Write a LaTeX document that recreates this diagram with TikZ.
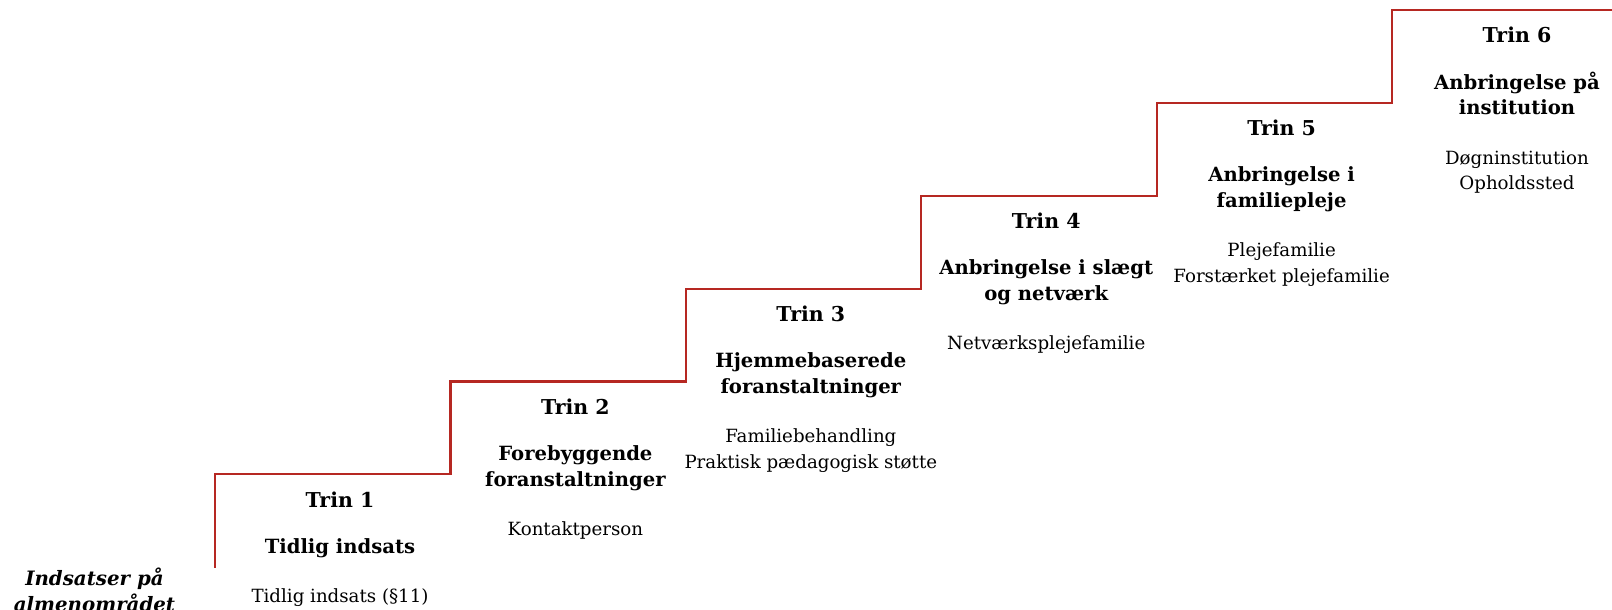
\documentclass[tikz,border=0pt]{standalone}
\usepackage{fontspec}
\setmainfont{DejaVu Serif}
\definecolor{stair}{RGB}{182,40,34}
\begin{document}
\begin{tikzpicture}[x=1pt,y=-1pt,
  every node/.style={inner sep=0pt,outer sep=0pt,anchor=base},
  trin/.style={font=\fontsize{20.5}{22}\selectfont\bfseries},
  sub/.style={font=\fontsize{19.6}{22}\selectfont\bfseries},
  desc/.style={font=\fontsize{18.2}{20}\selectfont},
  side/.style={font=\fontsize{19.8}{22}\selectfont\bfseries\itshape},
  stairline/.style={draw=stair,line width=2.2pt,line join=miter}]
\useasboundingbox (0,0) rectangle (1612,610);
% staircase
\coordinate (s0) at (215,567.7);
\coordinate (s6) at (1613,10);
\draw[stairline] (s0) -- (215,474.3) -- (450.4,474.3) -- (450.4,381.4) -- (685.8,381.4)
  -- (685.8,288.6) -- (921.2,288.6) -- (921.2,195.7) -- (1156.6,195.7)
  -- (1156.6,102.9) -- (1392,102.9) -- (1392,10) -- (s6);
% step 1
\node[trin] (t1) at (340,507.3) {Trin 1};
\node[sub] (s1a) at (340,553.3) {Tidlig indsats};
\node[desc] (d1a) at (340,602.3) {Tidlig indsats (§11)};
% step 2
\node[trin] (t2) at (575.4,414.4) {Trin 2};
\node[sub] (s2a) at (575.4,460.4) {Forebyggende};
\node[sub] (s2b) at (575.4,486.4) {foranstaltninger};
\node[desc] (d2a) at (575.4,535.4) {Kontaktperson};
% step 3
\node[trin] (t3) at (810.8,321.6) {Trin 3};
\node[sub] (s3a) at (810.8,367.6) {Hjemmebaserede};
\node[sub] (s3b) at (810.8,393.6) {foranstaltninger};
\node[desc] (d3a) at (810.8,442.6) {Familiebehandling};
\node[desc] (d3b) at (810.8,468.1) {Praktisk pædagogisk støtte};
% step 4
\node[trin] (t4) at (1046.2,228.7) {Trin 4};
\node[sub] (s4a) at (1046.2,274.7) {Anbringelse i slægt};
\node[sub] (s4b) at (1046.2,300.7) {og netværk};
\node[desc] (d4a) at (1046.2,349.7) {Netværksplejefamilie};
% step 5
\node[trin] (t5) at (1281.6,135.9) {Trin 5};
\node[sub] (s5a) at (1281.6,181.9) {Anbringelse i};
\node[sub] (s5b) at (1281.6,207.9) {familiepleje};
\node[desc] (d5a) at (1281.6,256.9) {Plejefamilie};
\node[desc] (d5b) at (1281.6,282.4) {Forstærket plejefamilie};
% step 6
\node[trin] (t6) at (1517,43) {Trin 6};
\node[sub] (s6a) at (1517,89) {Anbringelse på};
\node[sub] (s6b) at (1517,114) {institution};
\node[desc] (d6a) at (1517,164) {Døgninstitution};
\node[desc] (d6b) at (1517,189.5) {Opholdssted};
% side label
\node[side] (la) at (94.5,585) {Indsatser på};
\node[side] (lb) at (94.5,611) {almenområdet};
\end{tikzpicture}
\end{document}
